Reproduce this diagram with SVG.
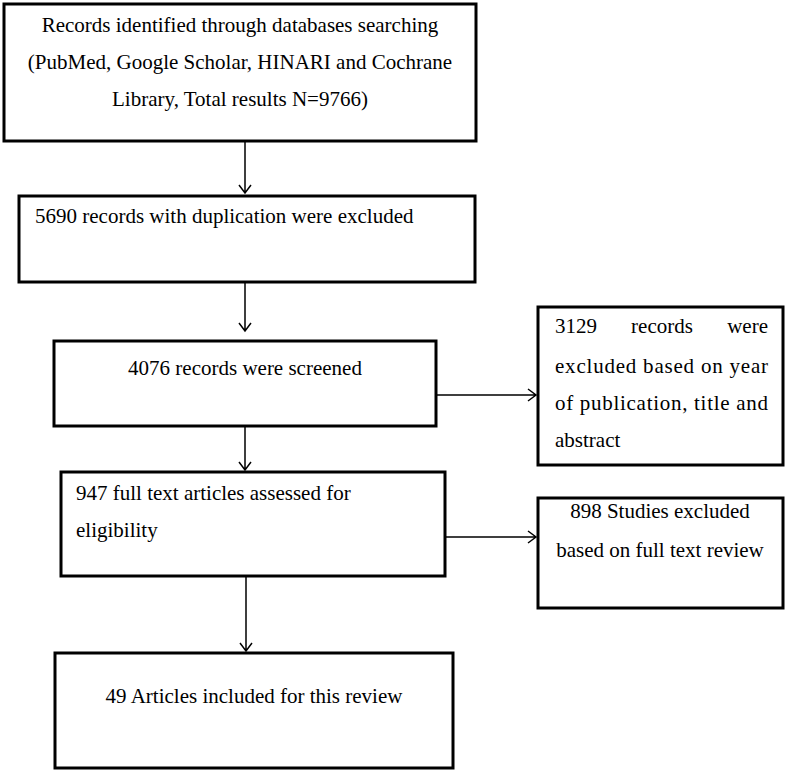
<svg xmlns="http://www.w3.org/2000/svg" width="791" height="772" viewBox="0 0 791 772" font-family="'Liberation Serif', 'Times New Roman', Tinos, 'DejaVu Serif', serif" font-size="21">
<style>
.b{fill:#fff;stroke:#000;stroke-width:3}
.c{text-anchor:middle}
.l{fill:none;stroke:#000;stroke-width:1.5}
</style>
<rect width="791" height="772" fill="#fff"/>
<g id="n1"><rect class="b" x="4" y="4" width="472" height="137"/>
<text class="c" x="240" y="32">Records identified through databases searching</text>
<text class="c" x="240" y="69">(PubMed, Google Scholar, HINARI and Cochrane</text>
<text class="c" x="240" y="106">Library, Total results N=9766)</text></g>
<g id="n2"><rect class="b" x="19" y="196" width="456" height="86"/>
<text x="35" y="223">5690 records with duplication were excluded</text></g>
<g id="n3"><rect class="b" x="54" y="341" width="382" height="85"/>
<text class="c" x="245" y="375">4076 records were screened</text></g>
<g id="n4"><rect class="b" x="538" y="307" width="245" height="158"/>
<text x="555" y="333">3129</text><text class="c" x="662" y="333">records</text><text x="768" y="333" text-anchor="end">were</text>
<text x="555" y="373" textLength="213" lengthAdjust="spacing">excluded based on year</text>
<text x="555" y="410" textLength="213" lengthAdjust="spacing">of publication, title and</text>
<text x="555" y="447">abstract</text></g>
<g id="n5"><rect class="b" x="61" y="472" width="384" height="104"/>
<text x="76" y="500">947 full text articles assessed for</text>
<text x="76" y="537">eligibility</text></g>
<g id="n6"><rect class="b" x="538" y="498" width="245" height="110"/>
<text class="c" x="660" y="518">898 Studies excluded</text>
<text class="c" x="660" y="557">based on full text review</text></g>
<g id="n7"><rect class="b" x="55" y="653" width="398" height="115"/>
<text class="c" x="254" y="703">49 Articles included for this review</text></g>
<g id="connectors" class="l">
<path d="M245 142V193M239 185L245 193L251 185"/>
<path d="M245 283V331M239 323L245 331L251 323"/>
<path d="M245 427V470M239 462L245 470L251 462"/>
<path d="M246 577V651M240 643L246 651L252 643"/>
<path d="M437 395H536M528 389L536 395L528 401"/>
<path d="M446 537H536M528 531L536 537L528 543"/>
</g>
</svg>
